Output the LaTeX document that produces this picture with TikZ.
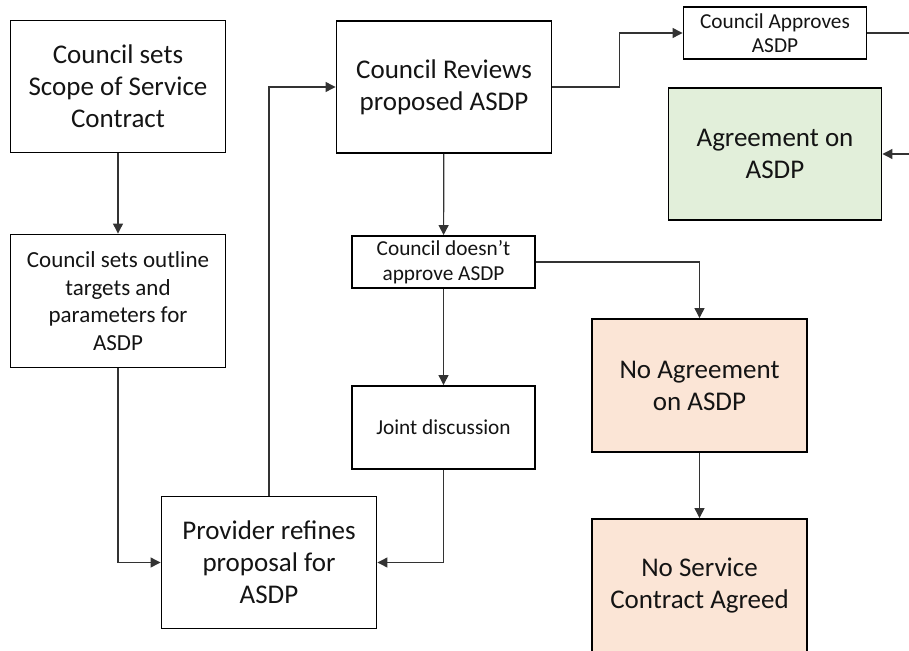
\documentclass[tikz,border=0pt]{standalone}
\usepackage{fontspec}
\setmainfont{Carlito}
\usetikzlibrary{arrows.meta, positioning}
\definecolor{agreed}{HTML}{E2EFDA}
\definecolor{refused}{HTML}{FBE5D6}
\definecolor{ink}{HTML}{141414}

\begin{document}
\begin{tikzpicture}[x=1pt, y=-1pt, text=ink,
    box/.style={draw=black, line width=1.9pt, align=center, inner sep=0pt},
    bigbox/.style={box, minimum width=215pt, minimum height=132pt, font=\fontsize{27}{32}\selectfont},
    midbox/.style={box, minimum width=215pt, minimum height=133pt, font=\fontsize{23}{27.5}\selectfont},
    smallbox/.style={box, minimum width=183pt, font=\fontsize{21.3}{24.5}\selectfont},
    link/.style={draw=black!80, line width=1.2pt, -{Triangle[length=10pt, width=10pt]}}]
    \useasboundingbox (0,0) rectangle (909,650);
    \clip (0,0) rectangle (909,650);
    \node[bigbox] (scope) at (118,86.5) {Council sets\\Scope of Service\\Contract};
    \node[midbox] (targets) at (118,301) {Council sets outline\\targets and\\parameters for\\ASDP};
    \node[bigbox] (refine) at (269,562.5) {Provider refines\\proposal for\\ASDP};
    \node[bigbox] (review) at (444,87) {Council Reviews\\proposed ASDP};
    \node[smallbox, minimum height=52pt] (reject) at (443.5,262) {Council doesn’t\\approve ASDP};
    \node[smallbox, minimum height=83pt] (joint) at (443.5,427.5) {Joint discussion};
    \node[smallbox, minimum height=52pt] (approve) at (775,33) {Council Approves\\ASDP};
    \node[bigbox, fill=agreed, minimum width=213pt] (agree) at (775,154) {Agreement on\\ASDP};
    \node[bigbox, fill=refused, minimum height=133pt] (noagree) at (699.5,385.5) {No Agreement\\on ASDP};
    \node[bigbox, fill=refused, minimum height=133pt] (nocontract) at (699.5,585.5) {No Service\\Contract Agreed};
    % off-page ends
    \coordinate (outA) at (910,33);
    \coordinate (outB) at (910,154);
    % connectors
    \draw[link] (scope) -- (targets);
    \draw[link] (targets.south) |- (refine.west);
    \draw[link] (refine.north) |- (review.west);
    \draw[link] (review.east) -- ++(67,0) |- (approve.west);
    \draw[link, -] (approve.east) -- (outA);
    \draw[link] (outB) -- (agree.east);
    \draw[link] (review) -- (reject);
    \draw[link] (reject.east) -| (noagree.north);
    \draw[link] (reject) -- (joint);
    \draw[link] (joint.south) |- (refine.east);
    \draw[link] (noagree) -- (nocontract);
\end{tikzpicture}
\end{document}
